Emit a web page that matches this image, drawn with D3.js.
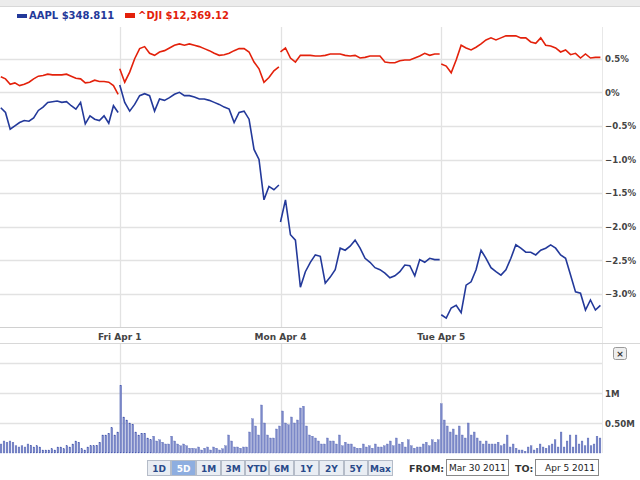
<!DOCTYPE html>
<html><head><meta charset="utf-8">
<script src="https://cdn.jsdelivr.net/npm/d3@7/dist/d3.min.js"></script>
<style>body{margin:0;background:#fff;font-family:Verdana,"DejaVu Sans",sans-serif}</style>
</head><body><svg id="c" width="640" height="480"></svg>
<script>
const days = ["Thu Mar 31","Fri Apr 1","Mon Apr 4","Tue Apr 5"];
const dayLabels = ["Fri Apr 1","Mon Apr 4","Tue Apr 5"];
const dayStartFrac = [0.26,0,0,0];
const aapl = [
 [-0.23,-0.30,-0.55,-0.50,-0.45,-0.42,-0.43,-0.38,-0.27,-0.22,-0.15,-0.14,-0.13,-0.15,-0.14,-0.20,-0.25,-0.15,-0.47,-0.35,-0.40,-0.42,-0.35,-0.46,-0.20,-0.30],
 [0.11,-0.15,-0.28,-0.18,-0.05,-0.02,-0.05,-0.28,-0.10,-0.12,-0.08,-0.03,0.0,-0.05,-0.05,-0.07,-0.10,-0.10,-0.12,-0.15,-0.18,-0.22,-0.25,-0.45,-0.30,-0.28,-0.40,-0.85,-1.0,-1.6,-1.4,-1.45,-1.38],
 [-1.93,-1.60,-2.12,-2.20,-2.90,-2.67,-2.53,-2.42,-2.44,-2.84,-2.75,-2.64,-2.32,-2.35,-2.29,-2.20,-2.32,-2.47,-2.53,-2.61,-2.64,-2.69,-2.76,-2.73,-2.67,-2.57,-2.58,-2.73,-2.49,-2.53,-2.47,-2.49,-2.49],
 [-3.31,-3.36,-3.21,-3.17,-3.28,-2.87,-2.82,-2.64,-2.35,-2.47,-2.61,-2.67,-2.72,-2.64,-2.47,-2.27,-2.32,-2.38,-2.38,-2.42,-2.35,-2.32,-2.27,-2.32,-2.42,-2.47,-2.72,-2.97,-2.99,-3.24,-3.09,-3.24,-3.17]
];
const dji = [
 [0.23,0.20,0.12,0.14,0.10,0.12,0.15,0.20,0.24,0.25,0.27,0.26,0.26,0.26,0.27,0.24,0.21,0.20,0.14,0.15,0.18,0.16,0.16,0.15,0.10,-0.03],
 [0.35,0.15,0.30,0.50,0.65,0.68,0.58,0.55,0.60,0.62,0.66,0.70,0.72,0.70,0.72,0.70,0.68,0.65,0.62,0.58,0.55,0.56,0.58,0.62,0.65,0.65,0.60,0.45,0.35,0.15,0.22,0.32,0.38],
 [0.60,0.66,0.51,0.45,0.55,0.55,0.55,0.54,0.54,0.55,0.57,0.57,0.57,0.55,0.54,0.55,0.51,0.52,0.54,0.54,0.54,0.45,0.44,0.44,0.47,0.48,0.48,0.51,0.54,0.58,0.55,0.57,0.57],
 [0.42,0.39,0.29,0.48,0.70,0.66,0.63,0.67,0.72,0.78,0.81,0.78,0.81,0.84,0.84,0.84,0.81,0.81,0.75,0.73,0.81,0.70,0.69,0.66,0.60,0.63,0.56,0.58,0.51,0.57,0.51,0.52,0.52]
];
const volume = [0.15,0.2,0.18,0.2,0.18,0.12,0.1,0.12,0.1,0.15,0.13,0.1,0.12,0.1,0.05,0.05,0.05,0.07,0.05,0.1,0.1,0.07,0.12,0.1,0.15,0.2,0.18,0.07,0.05,0.1,0.12,0.12,0.13,0.18,0.3,0.3,0.33,0.42,0.3,0.35,
 1.13,0.6,0.55,0.5,0.48,0.35,0.3,0.33,0.33,0.25,0.22,0.28,0.2,0.22,0.18,0.15,0.15,0.28,0.2,0.15,0.12,0.15,0.12,0.08,0.08,0.07,0.1,0.05,0.08,0.1,0.05,0.1,0.08,0.05,0.07,0.12,0.3,0.2,0.1,0.1,0.08,0.1,0.1,0.35,0.57,0.45,0.3,0.8,0.5,0.3,0.25,0.25,0.4,0.45,
 0.7,0.5,0.47,0.6,0.5,0.55,0.75,0.78,0.45,0.3,0.28,0.25,0.2,0.15,0.15,0.25,0.2,0.2,0.15,0.3,0.12,0.18,0.15,0.15,0.1,0.08,0.08,0.15,0.1,0.12,0.08,0.15,0.1,0.1,0.12,0.15,0.2,0.12,0.25,0.15,0.18,0.1,0.22,0.12,0.08,0.1,0.1,0.15,0.18,0.12,0.22,0.18,0.22,
 0.82,0.55,0.45,0.35,0.4,0.3,0.45,0.3,0.25,0.5,0.3,0.35,0.25,0.2,0.15,0.2,0.15,0.15,0.15,0.18,0.12,0.15,0.3,0.1,0.15,0.08,0.05,0.05,0.03,0.1,0.12,0.05,0.08,0.15,0.1,0.08,0.12,0.15,0.22,0.1,0.35,0.1,0.2,0.3,0.1,0.3,0.15,0.2,0.12,0.25,0.12,0.15,0.28,0.25];
const pctTicks = [0.5,0,-0.5,-1.0,-1.5,-2.0,-2.5,-3.0];
const volTicks = [0.5,1,1.5];
const ranges = ["1D","5D","1M","3M","YTD","6M","1Y","2Y","5Y","Max"];
const fromDate = "Mar 30 2011", toDate = "Apr 5 2011";

const svg = d3.select("#c");
const BLUE="#23399a", RED="#e3210b", GRID="#e2e2e2";
svg.append("rect").attr("x",0).attr("y",0).attr("width",640).attr("height",6).attr("fill","#ececec");
svg.append("line").attr("x1",0).attr("x2",640).attr("y1",6.5).attr("y2",6.5).attr("stroke","#d8d8d8");
const x = d3.scaleLinear().domain([0,4]).range([-41,602]);
const y = d3.scaleLinear().domain([0,-1]).range([92.3,159.5]);
const g = svg.append("g");
g.selectAll(".hg").data(pctTicks).join("line").attr("x1",0).attr("x2",602)
 .attr("y1",d=>Math.round(y(d))+0.5).attr("y2",d=>Math.round(y(d))+0.5).attr("stroke",GRID).attr("stroke-width",1.3);
g.selectAll(".vg").data([1,2,3]).join("line").attr("x1",d=>Math.round(x(d))+0.5).attr("x2",d=>Math.round(x(d))+0.5)
 .attr("y1",27).attr("y2",453).attr("stroke",GRID).attr("stroke-width",1.3);
svg.append("line").attr("x1",602.5).attr("x2",602.5).attr("y1",27).attr("y2",453).attr("stroke","#e8e8e8");
svg.append("line").attr("x1",0).attr("x2",602).attr("y1",327.5).attr("y2",327.5).attr("stroke","#d0d0d0");
svg.append("line").attr("x1",0).attr("x2",640).attr("y1",343.5).attr("y2",343.5).attr("stroke","#d8d8d8");
svg.append("rect").attr("x",0).attr("y",328).attr("width",602).attr("height",15).attr("fill","#fff");
const yAx = d3.axisRight(y).tickValues(pctTicks).tickSize(0).tickFormat(d=>(d===0?"0":d3.format(".1f")(d))+"%");
svg.append("g").attr("transform","translate(603,0)").call(yAx).call(a=>a.select(".domain").remove())
 .selectAll("text").attr("x",2).attr("font-size",8.6).attr("font-weight","bold").attr("fill","#444").attr("font-family","Verdana,DejaVu Sans");
svg.selectAll(".dl").data(dayLabels).join("text").attr("x",(d,i)=>x(i+1)).attr("y",340).attr("text-anchor","middle")
 .attr("font-size",9).attr("font-weight","bold").attr("fill","#444").text(d=>d);
const line = d3.line().x(d=>x(d.t)).y(d=>y(d.v));
function pts(arr,di){const f0=dayStartFrac[di];return arr.map((v,j)=>({t:di+f0+j*(0.99-f0)/(arr.length-1),v}));}
[[dji,RED],[aapl,BLUE]].forEach(([s,c])=>{
 g.selectAll(null).data(s.map((a,i)=>pts(a,i))).join("path").attr("d",line).attr("fill","none").attr("stroke",c).attr("stroke-width",1.6);
});
svg.append("rect").attr("x",17).attr("y",14).attr("width",10).attr("height",4).attr("fill",BLUE);
svg.append("text").attr("x",29).attr("y",19).attr("font-size",10).attr("font-weight","bold").attr("fill",BLUE).text("AAPL  $348.811");
svg.append("rect").attr("x",125).attr("y",13).attr("width",10).attr("height",5).attr("fill",RED);
svg.append("text").attr("x",138).attr("y",19).attr("font-size",10).attr("font-weight","bold").attr("fill",RED).text("^DJI  $12,369.12");
const vy = d3.scaleLinear().domain([0,1]).range([453,393]);
const vx = d3.scaleLinear().domain([0,volume.length-1]).range([1,600]);
svg.selectAll(".vgl").data(volTicks).join("line").attr("x1",0).attr("x2",602)
 .attr("y1",d=>Math.round(vy(d))+0.5).attr("y2",d=>Math.round(vy(d))+0.5).attr("stroke",GRID).attr("stroke-width",1.3);
svg.selectAll(".vb").data(volume).join("rect").attr("x",(d,i)=>vx(i)-0.9).attr("width",1.8).attr("y",d=>vy(d)).attr("height",d=>453-vy(d))
 .attr("fill","#7b88c8").attr("stroke","#4a5bb0").attr("stroke-width",0.3);
svg.selectAll(".vt").data([1,0.5]).join("text").attr("x",605).attr("y",d=>vy(d)+4).attr("font-size",8.6).attr("font-weight","bold").attr("fill","#444")
 .text(d=>d===1?"1M":"0.50M");
svg.append("rect").attr("x",613.5).attr("y",347.5).attr("width",13).attr("height",12).attr("rx",2).attr("fill","#eee").attr("stroke","#999");
svg.append("text").attr("x",620).attr("y",357).attr("text-anchor","middle").attr("font-size",9).attr("font-weight","bold").attr("fill","#333").text("×");
const bw=[23,24,24,23,23,24,24,24,23,24];let bx=147;
ranges.forEach((r,i)=>{
 const sel=r==="5D";
 svg.append("rect").attr("x",bx+0.5).attr("y",460.5).attr("width",bw[i]).attr("height",15).attr("fill",sel?"#8eaee0":"#e9edf3").attr("stroke","#b5bcc8");
 svg.append("text").attr("x",bx+bw[i]/2+0.5).attr("y",472).attr("text-anchor","middle").attr("font-size",9).attr("font-weight","bold")
  .attr("fill",sel?"#fff":"#2a4a8a").text(r);
 bx+=bw[i]+1;
});
svg.append("text").attr("x",409).attr("y",472).attr("font-size",9.5).attr("font-weight","bold").attr("fill","#333").text("FROM:");
svg.append("rect").attr("x",446.5).attr("y",459.5).attr("width",62).attr("height",16).attr("fill","#fff").attr("stroke","#888");
svg.append("text").attr("x",477.5).attr("y",471).attr("text-anchor","middle").attr("font-size",9).attr("fill","#222").text(fromDate);
svg.append("text").attr("x",515).attr("y",472).attr("font-size",9.5).attr("font-weight","bold").attr("fill","#333").text("TO:");
svg.append("rect").attr("x",535.5).attr("y",459.5).attr("width",63).attr("height",16).attr("fill","#fff").attr("stroke","#888");
svg.append("text").attr("x",595).attr("y",471).attr("text-anchor","end").attr("font-size",9).attr("fill","#222").text(toDate);
</script></body></html>
